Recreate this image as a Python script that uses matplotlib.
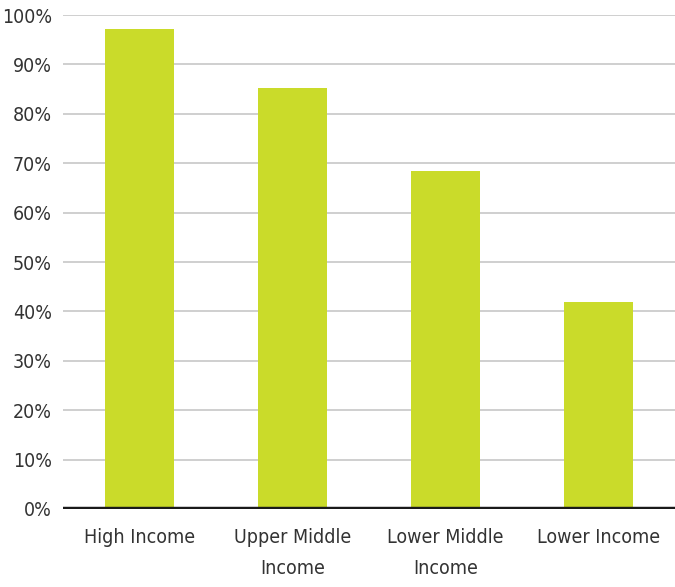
import matplotlib
matplotlib.use("Agg")
import matplotlib.pyplot as plt
from matplotlib.ticker import FuncFormatter

categories = ["High Income", "Upper Middle\nIncome", "Lower Middle\nIncome", "Lower Income"]
shares = [97.2, 85.2, 68.4, 42.0]
yticks = [0, 10, 20, 30, 40, 50, 60, 70, 80, 90, 100]

plt.rcParams["font.family"] = ["DejaVu Sans"]
plt.rcParams["font.stretch"] = "condensed"

fig = plt.figure(figsize=(6.75, 5.87), dpi=100)
ax = fig.add_axes([0.0933, 0.1329, 0.9067, 0.8415])

x = range(len(categories))
ax.bar(x, shares, width=0.455, color="#CADB2A", zorder=3)

ax.set_xlim(-0.5, len(categories) - 0.5)
ax.set_ylim(0, 100)
ax.set_yticks(yticks)
ax.yaxis.set_major_formatter(FuncFormatter(lambda v, _: f"{v:.0f}%"))
ax.set_xticks(list(x))
ax.set_xticklabels(categories, linespacing=1.75)

ax.grid(axis="y", color="#cccccc", lw=1.3, zorder=0)
ax.axhline(0, color="#1a1a1a", lw=3.2, zorder=4)
for s in ax.spines.values():
    s.set_visible(False)
ax.tick_params(axis="both", length=0, labelsize=14, colors="#333333")
ax.tick_params(axis="y", pad=8)
ax.tick_params(axis="x", pad=14)

fig.savefig("out.png", dpi=100)
